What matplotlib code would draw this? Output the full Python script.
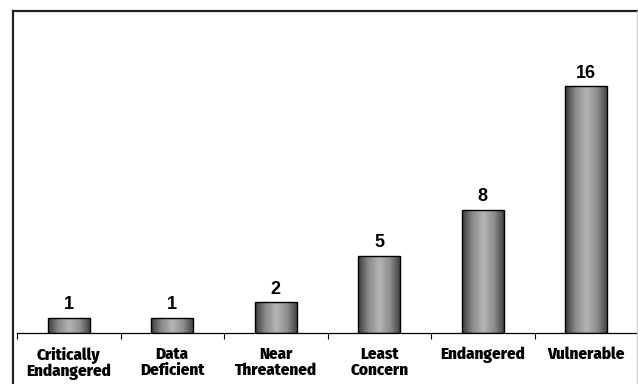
import numpy as np
import matplotlib.pyplot as plt
from matplotlib.lines import Line2D
from matplotlib.colors import LinearSegmentedColormap

# IUCN status counts
categories = ['Critically\nEndangered', 'Data\nDeficient', 'Near\nThreatened',
              'Least\nConcern', 'Endangered', 'Vulnerable']
counts = [1, 1, 2, 5, 8, 16]

W, H = 638, 384
fig = plt.figure(figsize=(W / 100, H / 100), dpi=100)
ax = fig.add_axes([17 / W, (H - 333) / H, 621 / W, 322 / H])

x = np.arange(len(categories))
bars = ax.bar(x, counts, width=0.41, color='none', edgecolor='black',
              linewidth=1.0, zorder=3)

# cylinder-style shading across each bar
shade = LinearSegmentedColormap.from_list(
    'cyl', ['#3a3a3a', '#8c8c8c', '#b4b4b4', '#8e8e8e', '#3c3c3c'])
grad = np.linspace(0, 1, 256).reshape(1, -1)
for b in bars:
    x0, w, h = b.get_x(), b.get_width(), b.get_height()
    im = ax.imshow(grad, cmap=shade, extent=[x0, x0 + w, 0, h],
                   aspect='auto', zorder=2, interpolation='bicubic')
    im.set_clip_path(b)

for xi, v in zip(x, counts):
    ax.text(xi, v + 0.3, str(v), ha='center', va='bottom',
            fontsize=13, fontweight='bold', family='Liberation Sans')

ax.set_xlim(-0.5, len(categories) - 0.5)
ax.set_ylim(0, 20.9)
ax.set_yticks([])
ax.set_xticks(x)
ax.set_xticklabels(categories, fontsize=12.2, fontweight=800,
                   family=['Fira Sans Condensed', 'PT Sans Narrow', 'DejaVu Sans'],
                   linespacing=1.0)
ax.tick_params(axis='x', which='major', length=0, pad=10)
ax.set_xticks(np.arange(-0.5, len(categories), 1.0), minor=True)
ax.tick_params(axis='x', which='minor', length=4, width=0.8, direction='out')
for s in ['top', 'right', 'left']:
    ax.spines[s].set_visible(False)
ax.spines['bottom'].set_linewidth(0.9)

# outer frame
fig.add_artist(Line2D([13 / W, 13 / W], [0, 1 - 11 / H], color='#222222', lw=1.6))
fig.add_artist(Line2D([13 / W, 637 / W], [1 - 11 / H, 1 - 11 / H], color='#222222', lw=1.6))
fig.add_artist(Line2D([637 / W, 637 / W], [0, 1 - 11 / H], color='#d0d0d0', lw=1.0))

fig.savefig('out.png', dpi=100)
